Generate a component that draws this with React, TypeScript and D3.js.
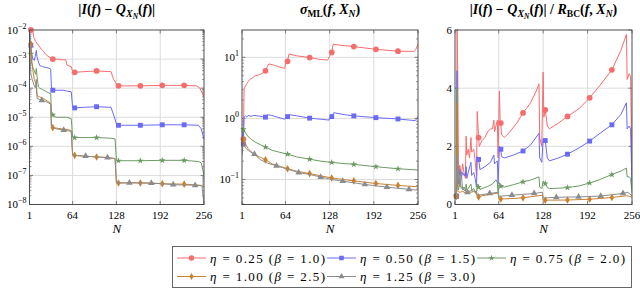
import { useRef, useEffect } from 'react';
import * as d3 from 'd3';

type Pt = [number, number];

const etaLabels = ['0.25', '0.50', '0.75', '1.00', '1.25'];
const betaLabels = ['1.0', '1.5', '2.0', '2.5', '3.0'];
const colors = ['#f66d6d', '#6a6af5', '#6b9b62', '#c9802f', '#8c8c8c'];

const markerNs = [3, 35, 67, 99, 131, 163, 195, 227];
const grayMarkerNs = [19, 51, 83, 115, 147, 179, 211, 243];
const xTicks = [1, 64, 128, 192, 256];
const errTicks = [1e-8, 1e-7, 1e-6, 1e-5, 1e-4, 1e-3, 1e-2];
const sigmaTicks = [0.1, 1, 10];
const ratioTicks = [0, 2, 4, 6];

// |I(f) - Q(f)|
const errEta025: Pt[] = [[1,1e-2],[3,1e-2],[4,8e-3],[5,1e-2],[6,9e-3],[7,6e-3],[8,5e-3],[10,4e-3],[12,3.5e-3],[14,3e-3],[16,2.6e-3],[18,2.2e-3],[20,2e-3],[22,1.8e-3],[24,1.5e-3],[28,1.25e-3],[32,1.1e-3],[35,1e-3],[40,1e-3],[46,9.5e-4],[54,9.5e-4],[56,6e-4],[62,5.5e-4],[64,3.6e-4],[67,3.5e-4],[80,3.7e-4],[99,3.9e-4],[110,3.8e-4],[120,3.7e-4],[124,2e-4],[128,1.4e-4],[131,1.2e-4],[163,1.2e-4],[195,1.25e-4],[227,1.25e-4],[245,1.2e-4],[250,1e-4],[256,5e-5]];
const errEta050: Pt[] = [[1,1e-2],[2,4e-3],[3,3e-3],[4,1.5e-3],[6,1e-3],[8,9e-4],[10,1.5e-3],[11,2e-3],[12,1.2e-3],[14,8e-4],[16,6e-4],[20,5.5e-4],[24,5.2e-4],[28,5e-4],[32,4.5e-4],[33,1.1e-4],[35,8.5e-5],[50,8.5e-5],[55,8e-5],[62,7.5e-5],[64,2.2e-5],[67,2.1e-5],[80,2.2e-5],[99,2.3e-5],[120,2.2e-5],[124,1.2e-5],[128,6e-6],[131,5.3e-6],[163,5.3e-6],[195,5.5e-6],[227,5.5e-6],[248,5.3e-6],[252,4e-6],[256,1.7e-6]];
const errEta075: Pt[] = [[1,1e-2],[2,3e-3],[3,1.5e-3],[4,8e-4],[6,5e-4],[8,4e-4],[10,3e-4],[11,4.8e-4],[12,2.5e-4],[14,1.1e-4],[16,1e-4],[20,9e-5],[24,8e-5],[28,7e-5],[32,6.5e-5],[33,1.5e-5],[35,1.2e-5],[40,1e-5],[55,1e-5],[62,9e-6],[64,2.1e-6],[67,2e-6],[99,2e-6],[120,1.9e-6],[126,1.8e-6],[128,3.3e-7],[131,3.2e-7],[163,3.2e-7],[195,3.3e-7],[227,3.3e-7],[248,3e-7],[252,2.7e-7],[256,1e-7]];
const errEta100: Pt[] = [[1,3.5e-3],[3,3.3e-3],[4,1e-3],[6,4e-4],[8,2e-4],[10,1.5e-4],[12,6e-5],[14,5e-5],[16,5e-5],[20,4.5e-5],[24,4e-5],[28,3.5e-5],[32,3e-5],[33,5e-6],[35,4.4e-6],[48,4e-6],[56,3.8e-6],[62,3.5e-6],[64,5e-7],[67,4.9e-7],[99,4.3e-7],[110,4.2e-7],[126,3.8e-7],[128,5.8e-8],[131,5.5e-8],[163,5.5e-8],[195,5.2e-8],[227,5e-8],[250,4.6e-8],[256,4.2e-8]];
const errEta125: Pt[] = [[1,8e-3],[2,1e-3],[3,3e-4],[5,2e-4],[8,1.2e-4],[10,1e-4],[11,2e-4],[12,4.5e-5],[16,4e-5],[19,3.8e-5],[24,3.5e-5],[28,3.2e-5],[32,2.8e-5],[33,4.5e-6],[40,4e-6],[51,3.6e-6],[58,3.4e-6],[62,3.3e-6],[64,4.8e-7],[83,4.6e-7],[100,4.3e-7],[115,4.1e-7],[126,3.8e-7],[128,5.5e-8],[147,5.6e-8],[179,5.5e-8],[211,4.8e-8],[243,4.6e-8],[253,4.4e-8],[256,1e-8]];

// sigma_ML(f, X_N)
const sigmaEta025: Pt[] = [[1,0.44],[2,0.45],[3,0.46],[4,3.0],[6,3.4],[8,3.7],[10,4.0],[12,4.3],[16,4.6],[20,5.0],[24,5.1],[28,5.3],[32,5.6],[35,6.0],[38,7.2],[40,7.8],[48,7.4],[56,6.9],[63,6.6],[64,8.0],[67,8.6],[69,11.3],[80,10.6],[99,9.9],[112,9.3],[125,9.0],[128,10.5],[131,12.0],[133,16.3],[150,15.5],[163,15.0],[195,13.5],[227,12.6],[250,12.5],[253,13.5],[256,16.5]];
const sigmaEta050: Pt[] = [[1,0.36],[2,0.37],[3,0.38],[4,1.05],[6,1.1],[8,1.05],[10,1.12],[14,1.08],[18,1.12],[24,1.1],[30,1.07],[35,1.05],[38,1.15],[44,1.12],[52,1.05],[63,0.97],[64,1.0],[67,1.07],[70,1.15],[85,1.08],[99,1.01],[115,0.97],[127,0.94],[128,1.0],[131,1.07],[134,1.24],[150,1.15],[163,1.1],[195,1.03],[227,0.98],[252,0.92],[256,1.07]];
const sigmaEta075: Pt[] = [[1,0.4],[2,0.6],[3,0.66],[6,0.58],[10,0.5],[15,0.45],[20,0.41],[28,0.37],[35,0.34],[45,0.3],[55,0.28],[67,0.26],[80,0.235],[99,0.215],[115,0.2],[131,0.19],[163,0.177],[195,0.162],[227,0.15],[256,0.143]];
const sigmaEta100: Pt[] = [[1,0.3],[2,0.4],[3,0.45],[6,0.38],[10,0.32],[15,0.28],[20,0.25],[28,0.23],[35,0.21],[45,0.18],[55,0.165],[67,0.15],[80,0.137],[99,0.125],[115,0.115],[131,0.106],[163,0.095],[195,0.086],[227,0.08],[256,0.076]];
const sigmaEta125: Pt[] = [[1,0.25],[2,0.33],[3,0.38],[6,0.33],[10,0.3],[14,0.28],[19,0.26],[28,0.21],[38,0.185],[51,0.168],[65,0.15],[83,0.13],[100,0.12],[115,0.11],[131,0.1],[147,0.094],[179,0.083],[211,0.075],[243,0.069],[256,0.067]];

// |I(f) - Q(f)| / R_BC(f, X_N)
const ratioEta025: Pt[] = [[1,0.3],[3,0.3],[4,6.0],[5,4.5],[6,1.0],[8,1.35],[10,0.95],[12,1.4],[14,1.1],[16,0.9],[17,2.35],[18,1.7],[20,1.9],[22,1.6],[24,2.3],[25,1.8],[28,1.9],[30,1.5],[32,1.0],[33,3.2],[35,2.3],[36,2.0],[40,2.2],[44,2.3],[48,2.5],[52,2.6],[55,2.6],[57,2.9],[58,2.5],[60,2.7],[62,2.9],[63,1.6],[65,3.9],[66,2.9],[67,2.8],[68,2.4],[72,2.3],[80,2.5],[90,2.8],[99,3.15],[110,3.5],[118,3.9],[122,4.15],[123,2.3],[126,2.0],[128,4.55],[129,3.0],[131,3.25],[134,2.7],[137,2.6],[150,2.8],[163,3.03],[180,3.3],[195,3.67],[210,4.1],[227,4.63],[240,5.3],[248,5.85],[249,4.3],[252,4.5],[254,4.4],[256,1.0]];
const ratioEta050: Pt[] = [[1,0.3],[3,0.28],[4,4.6],[5,1.0],[6,0.7],[8,1.2],[10,0.9],[12,1.1],[14,1.0],[16,1.0],[17,1.3],[18,0.9],[20,1.1],[24,1.45],[25,1.0],[28,1.1],[30,0.9],[32,0.6],[33,1.65],[35,1.55],[37,1.2],[44,1.3],[52,1.45],[57,1.7],[58,1.4],[62,1.5],[63,0.7],[65,2.0],[67,1.9],[68,1.65],[72,1.6],[85,1.7],[99,1.84],[110,2.05],[122,2.45],[123,1.6],[126,1.45],[128,2.25],[131,2.2],[134,1.6],[137,1.5],[150,1.6],[163,1.73],[180,1.95],[195,2.18],[210,2.45],[227,2.74],[240,3.1],[248,3.5],[249,2.6],[252,2.7],[254,2.6],[256,0.6]];
const ratioEta075: Pt[] = [[1,0.3],[3,0.3],[4,4.0],[5,0.6],[6,0.5],[8,0.9],[10,0.55],[12,0.6],[14,0.5],[16,0.45],[17,0.7],[18,0.5],[20,0.55],[24,0.7],[25,0.5],[28,0.55],[32,0.35],[33,0.7],[35,0.6],[37,0.52],[48,0.62],[55,0.7],[60,0.85],[62,0.75],[63,0.4],[65,0.75],[67,0.63],[72,0.6],[85,0.68],[99,0.78],[110,0.84],[122,0.95],[123,0.6],[126,0.55],[128,0.8],[131,0.72],[134,0.58],[137,0.55],[150,0.56],[163,0.58],[180,0.64],[195,0.74],[210,0.86],[227,1.03],[240,1.15],[248,1.25],[249,0.95],[252,0.95],[254,0.9],[256,0.4]];
const ratioEta100: Pt[] = [[1,0.3],[3,0.28],[4,3.5],[5,0.45],[8,0.42],[12,0.45],[16,0.4],[20,0.45],[24,0.42],[28,0.45],[32,0.38],[33,0.28],[35,0.26],[40,0.3],[50,0.34],[60,0.38],[63,0.4],[64,0.2],[67,0.19],[80,0.2],[99,0.23],[115,0.28],[127,0.32],[128,0.15],[131,0.15],[150,0.15],[163,0.155],[195,0.18],[227,0.24],[248,0.3],[252,0.28],[256,0.25]];
const ratioEta125: Pt[] = [[1,0.3],[3,0.3],[4,1.7],[5,0.8],[6,1.3],[8,0.6],[10,1.1],[12,0.5],[14,0.6],[16,0.5],[19,0.42],[24,0.48],[28,0.46],[32,0.44],[33,0.32],[40,0.34],[51,0.38],[63,0.42],[64,0.28],[83,0.32],[100,0.35],[115,0.38],[127,0.42],[128,0.22],[147,0.25],[179,0.26],[211,0.29],[243,0.38],[250,0.42],[256,0.3]];

const symbolTypes = [d3.symbolCircle, d3.symbolSquare, d3.symbolStar, d3.symbolDiamond, d3.symbolTriangle];
const symbolSizes = [26, 24, 14, 17, 19];

const FONT = '"Liberation Serif", "DejaVu Serif", serif';
const TOP = 30;
const BOTTOM = 204.5;

type Part = { t: string; it?: boolean; size?: number; dy?: number };

const rich = (text: any, parts: Part[], base: number) => {
  parts.forEach(p => {
    text.append('tspan')
      .attr('font-size', p.size || base)
      .attr('font-style', p.it ? 'italic' : 'normal')
      .attr('dy', p.dy || 0)
      .text(p.t);
  });
};

const errTitle: Part[] = [
  { t: '|' }, { t: 'I', it: true }, { t: '(' }, { t: 'f', it: true }, { t: ') − ' }, { t: 'Q', it: true },
  { t: 'X', it: true, size: 10, dy: 3 }, { t: 'N', it: true, size: 7.5, dy: 2 },
  { t: '(', dy: -5 }, { t: 'f', it: true }, { t: ')|' }
];
const sigmaTitle: Part[] = [
  { t: 'σ', it: true }, { t: 'ML', size: 9.5, dy: 3 }, { t: '(', dy: -3 }, { t: 'f', it: true }, { t: ', ' },
  { t: 'X', it: true }, { t: 'N', it: true, size: 9.5, dy: 3 }, { t: ')', dy: -3 }
];
const ratioTitle: Part[] = [
  ...errTitle, { t: ' / ' }, { t: 'R', it: true }, { t: 'BC', size: 9.5, dy: 3 }, { t: '(', dy: -3 }, { t: 'f', it: true },
  { t: ', ' }, { t: 'X', it: true }, { t: 'N', it: true, size: 9.5, dy: 3 }, { t: ')', dy: -3 }
];

const App = () => {
  const ref = useRef<SVGSVGElement>(null);

  useEffect(() => {
    const svg = d3.select(ref.current);
    svg.selectAll('*').remove();

    const drawPanel = (idx: number, x0: number, x1: number, y: any, yTicks: number[], isLog: boolean,
      series: Pt[][], title: Part[]) => {
      const x = d3.scaleLinear().domain([1, 256]).range([x0, x1]);
      const g = svg.append('g');
      const clipId = `clip-${idx}`;
      svg.append('clipPath').attr('id', clipId)
        .append('rect').attr('x', x0).attr('y', TOP).attr('width', x1 - x0).attr('height', BOTTOM - TOP);

      // grid
      g.selectAll('.vg').data(xTicks.slice(1, -1)).join('line')
        .attr('x1', d => x(d)).attr('x2', d => x(d)).attr('y1', TOP).attr('y2', BOTTOM)
        .attr('stroke', '#dcdcdc').attr('stroke-width', 1);
      g.selectAll('.hg').data(yTicks.filter(v => Math.abs(y(v) - TOP) > 1 && Math.abs(y(v) - BOTTOM) > 1)).join('line')
        .attr('x1', x0).attr('x2', x1).attr('y1', d => y(d)).attr('y2', d => y(d))
        .attr('stroke', '#dcdcdc').attr('stroke-width', 1);

      // minor ticks (log axes)
      if (isLog) {
        const [lo, hi] = y.domain();
        const minors: number[] = [];
        for (let e = Math.floor(Math.log10(lo)); e <= Math.ceil(Math.log10(hi)); e++) {
          for (let m = 2; m <= 9; m++) {
            const v = m * Math.pow(10, e);
            if (v >= lo && v <= hi) minors.push(v);
          }
        }
        [x0, x1].forEach((side, k) => {
          g.selectAll(null).data(minors).join('line')
            .attr('x1', side).attr('x2', side + (k === 0 ? 2 : -2))
            .attr('y1', d => y(d)).attr('y2', d => y(d))
            .attr('stroke', '#555').attr('stroke-width', 0.6);
        });
      }
      // major ticks
      [x0, x1].forEach((side, k) => {
        g.selectAll(null).data(yTicks).join('line')
          .attr('x1', side).attr('x2', side + (k === 0 ? 3.5 : -3.5))
          .attr('y1', d => y(d)).attr('y2', d => y(d))
          .attr('stroke', '#555').attr('stroke-width', 0.7);
      });
      [TOP, BOTTOM].forEach((side, k) => {
        g.selectAll(null).data(xTicks).join('line')
          .attr('x1', d => x(d)).attr('x2', d => x(d))
          .attr('y1', side).attr('y2', side + (k === 0 ? 3.5 : -3.5))
          .attr('stroke', '#555').attr('stroke-width', 0.7);
      });

      const line = d3.line<Pt>().x(d => x(d[0])).y(d => y(d[1]));
      series.forEach((data, i) => {
        g.append('path').datum(data)
          .attr('d', line)
          .attr('fill', 'none')
          .attr('stroke', colors[i])
          .attr('stroke-width', 1)
          .attr('stroke-linejoin', 'round')
          .attr('clip-path', `url(#${clipId})`);
        const marks = i === 4 ? grayMarkerNs : markerNs;
        g.selectAll(null).data(data.filter(d => marks.includes(d[0]))).join('path')
          .attr('transform', d => `translate(${x(d[0])},${y(d[1])})`)
          .attr('d', d3.symbol(symbolTypes[i], symbolSizes[i])())
          .attr('fill', colors[i]);
      });

      // frame
      g.append('rect')
        .attr('x', x0).attr('y', TOP).attr('width', x1 - x0).attr('height', BOTTOM - TOP)
        .attr('fill', 'none').attr('stroke', '#4d4d4d').attr('stroke-width', 1);

      // x tick labels
      g.selectAll(null).data(xTicks).join('text')
        .attr('x', d => x(d)).attr('y', 218.5)
        .attr('text-anchor', 'middle')
        .attr('font-family', FONT).attr('font-size', 11)
        .text(d => d);

      // y tick labels
      yTicks.forEach(v => {
        const t = g.append('text')
          .attr('x', x0 - 3).attr('y', y(v) + 3.5)
          .attr('text-anchor', 'end')
          .attr('font-family', FONT).attr('font-size', 11);
        if (isLog) {
          const e = Math.round(Math.log10(v));
          t.append('tspan').text('10');
          t.append('tspan').attr('dy', -5).attr('font-size', 8).text(e < 0 ? `−${-e}` : `${e}`);
        } else {
          t.text(v);
        }
      });

      // axis label
      g.append('text')
        .attr('x', (x0 + x1) / 2).attr('y', 233)
        .attr('text-anchor', 'middle')
        .attr('font-family', FONT).attr('font-size', 13).attr('font-style', 'italic')
        .text('N');

      // title
      const tt = g.append('text')
        .attr('x', (x0 + x1) / 2).attr('y', 14)
        .attr('text-anchor', 'middle')
        .attr('font-family', FONT).attr('font-weight', 'bold');
      rich(tt, title, 14);
    };

    const yErr = d3.scaleLog().domain([1e-8, 1e-2]).range([BOTTOM, TOP]);
    const ySigma = d3.scaleLog().domain([0.039, 28]).range([BOTTOM, TOP]);
    const yRatio = d3.scaleLinear().domain([0, 6]).range([BOTTOM, TOP]);

    drawPanel(0, 29.5, 204, yErr, errTicks, true,
      [errEta025, errEta050, errEta075, errEta100, errEta125], errTitle);
    drawPanel(1, 242, 418, ySigma, sigmaTicks, true,
      [sigmaEta025, sigmaEta050, sigmaEta075, sigmaEta100, sigmaEta125], sigmaTitle);
    drawPanel(2, 455, 632, yRatio, ratioTicks, false,
      [ratioEta025, ratioEta050, ratioEta075, ratioEta100, ratioEta125], ratioTitle);

    // legend
    const lg = svg.append('g');
    lg.append('rect')
      .attr('x', 172.5).attr('y', 246.5).attr('width', 459).attr('height', 41)
      .attr('fill', '#fff').attr('stroke', '#666').attr('stroke-width', 1);
    etaLabels.forEach((eta, i) => {
      const col = i % 3;
      const row = Math.floor(i / 3);
      const lx = 177 + col * 150;
      const ly = 258 + row * 18.5;
      lg.append('line')
        .attr('x1', lx).attr('x2', lx + 29).attr('y1', ly).attr('y2', ly)
        .attr('stroke', colors[i]).attr('stroke-width', 1);
      lg.append('path')
        .attr('transform', `translate(${lx + 14.5},${ly})`)
        .attr('d', d3.symbol(symbolTypes[i], symbolSizes[i] * 0.85)())
        .attr('fill', colors[i]);
      const t = lg.append('text')
        .attr('x', lx + 33).attr('y', ly + 4.5)
        .attr('font-family', FONT).attr('font-size', 13)
        .attr('textLength', 115).attr('lengthAdjust', 'spacing');
      rich(t, [
        { t: 'η', it: true }, { t: ` = ${eta} (` }, { t: 'β', it: true }, { t: ` = ${betaLabels[i]})` }
      ], 13);
    });
  }, []);

  return (
    <svg ref={ref} width={640} height={289}
      style={{ position: 'absolute', left: 0, top: 0, background: '#fff' }}></svg>
  );
};

export default App;
